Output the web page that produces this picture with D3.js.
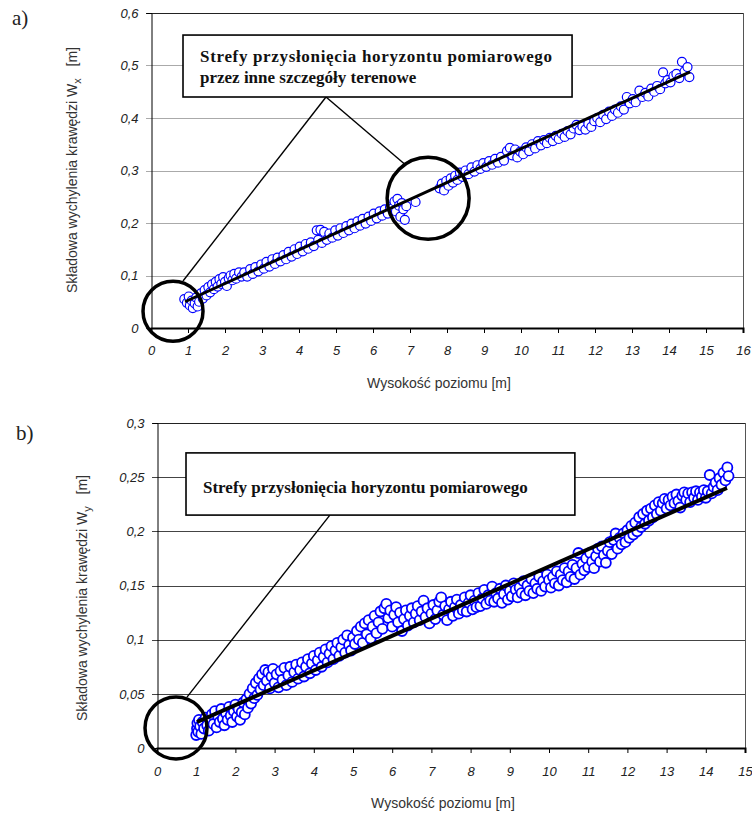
<!DOCTYPE html>
<html>
<head>
<meta charset="utf-8">
<script src="https://cdn.jsdelivr.net/npm/d3@7"></script>
<style>
  body { margin: 0; background: #fff; }
  svg { display: block; }
</style>
</head>
<body>
<div id="chart"></div>
<script>
// --- data ---
// a) component Wx [m] vs level height [m]
var wxPoints = [
  [0.90,.055],[0.97,.048],[1.02,.060],[1.05,.043],[1.10,.052],[1.13,.038],[1.18,.047],[1.22,.058],
  [1.26,.041],[1.30,.050],[1.35,.066],[1.40,.056],[1.45,.072],[1.50,.062],[1.55,.078],[1.60,.068],
  [1.65,.083],[1.70,.074],[1.75,.088],[1.80,.079],[1.85,.093],[1.90,.084],[1.95,.097],[2.00,.088],
  [2.05,.080],[2.10,.095],[2.15,.100],[2.20,.091],[2.25,.103],[2.30,.094],[2.38,.106],[2.45,.098],
  [2.52,.106],[2.60,.098],[2.68,.112],[2.75,.103],[2.82,.116],[2.90,.108],[2.98,.121],[3.05,.113],
  [3.12,.126],[3.20,.117],[3.28,.131],[3.35,.122],[3.42,.134],[3.50,.127],[3.58,.139],[3.65,.131],
  [3.72,.145],[3.80,.136],[3.88,.150],[3.95,.141],[4.02,.155],[4.10,.146],[4.18,.160],[4.25,.151],
  [4.32,.163],[4.40,.156],[4.48,.186],[4.52,.168],[4.58,.187],[4.62,.162],[4.68,.183],[4.75,.168],
  [4.82,.180],[4.90,.172],[4.98,.186],[5.05,.176],[5.12,.190],[5.20,.181],[5.28,.194],[5.35,.186],
  [5.42,.199],[5.50,.190],[5.58,.203],[5.65,.195],[5.72,.208],[5.80,.199],[5.88,.212],[5.95,.204],
  [6.02,.218],[6.10,.209],[6.18,.222],[6.25,.214],[6.32,.226],[6.40,.218],[6.46,.230],[6.52,.228],
  [6.58,.241],[6.62,.222],[6.66,.246],[6.70,.233],[6.74,.212],[6.78,.238],[6.82,.226],[6.86,.206],
  [6.90,.232],[7.15,.240],[7.80,.266],[7.86,.275],[7.92,.262],[7.98,.280],[8.04,.271],[8.10,.285],
  [8.16,.277],[8.22,.290],[8.28,.282],[8.35,.296],[8.42,.288],[8.50,.300],[8.58,.293],[8.66,.306],
  [8.74,.298],[8.82,.310],[8.90,.303],[8.98,.314],[9.06,.307],[9.14,.318],[9.22,.311],[9.30,.322],
  [9.38,.315],[9.46,.326],[9.54,.319],[9.62,.337],[9.70,.343],[9.76,.329],[9.84,.340],[9.90,.325],
  [9.98,.336],[10.06,.331],[10.14,.344],[10.22,.337],[10.30,.350],[10.38,.342],[10.46,.356],[10.54,.348],
  [10.62,.358],[10.70,.352],[10.78,.362],[10.86,.356],[10.94,.366],[11.02,.360],[11.10,.370],[11.18,.364],
  [11.26,.375],[11.34,.369],[11.42,.380],[11.50,.387],[11.58,.377],[11.66,.384],[11.74,.378],[11.82,.389],
  [11.90,.383],[11.98,.394],[12.06,.400],[12.14,.392],[12.22,.406],[12.30,.398],[12.38,.412],[12.46,.404],
  [12.54,.416],[12.62,.410],[12.70,.422],[12.78,.416],[12.86,.440],[12.94,.428],[13.02,.436],[13.10,.430],
  [13.20,.452],[13.28,.440],[13.36,.448],[13.44,.441],[13.52,.456],[13.60,.450],[13.68,.461],[13.76,.455],
  [13.84,.487],[13.90,.466],[13.96,.472],[14.04,.468],[14.12,.480],[14.20,.484],[14.28,.476],[14.35,.507],
  [14.42,.489],[14.50,.497],[14.55,.478]
];
var wxFit = [[0.92, 0.050], [14.57, 0.488]];

// b) component Wy [m] vs level height [m]
var wyPoints = [
  [1.00,.012],[1.02,.018],[1.03,.023],[1.05,.015],[1.07,.026],[1.10,.020],[1.13,.013],[1.16,.024],
  [1.20,.018],[1.24,.028],[1.28,.021],[1.32,.016],[1.36,.026],[1.40,.031],[1.44,.022],[1.48,.034],
  [1.52,.019],[1.56,.029],[1.60,.024],[1.64,.036],[1.68,.027],[1.72,.021],[1.76,.032],[1.80,.026],
  [1.84,.038],[1.88,.030],[1.92,.024],[1.96,.034],[2.00,.040],[2.04,.029],[2.08,.036],[2.12,.026],
  [2.16,.033],[2.20,.042],[2.24,.031],[2.28,.045],[2.32,.037],[2.36,.050],[2.40,.041],[2.44,.055],
  [2.48,.046],[2.52,.060],[2.56,.049],[2.60,.064],[2.64,.054],[2.68,.068],[2.72,.058],[2.76,.072],
  [2.80,.062],[2.84,.070],[2.88,.055],[2.92,.066],[2.96,.073],[3.00,.060],[3.05,.068],[3.10,.056],
  [3.15,.071],[3.20,.063],[3.25,.074],[3.30,.058],[3.35,.067],[3.40,.075],[3.45,.061],[3.50,.070],
  [3.55,.077],[3.60,.064],[3.65,.072],[3.70,.079],[3.75,.066],[3.80,.075],[3.85,.082],[3.90,.069],
  [3.95,.078],[4.00,.085],[4.05,.072],[4.10,.081],[4.15,.088],[4.20,.075],[4.25,.084],[4.30,.091],
  [4.35,.079],[4.40,.087],[4.45,.094],[4.50,.082],[4.55,.090],[4.60,.097],[4.65,.085],[4.70,.093],
  [4.75,.100],[4.80,.088],[4.85,.104],[4.90,.095],[4.95,.090],[5.00,.102],[5.05,.096],[5.10,.108],
  [5.15,.100],[5.20,.112],[5.25,.097],[5.30,.115],[5.35,.105],[5.40,.118],[5.45,.101],[5.50,.112],
  [5.55,.122],[5.60,.106],[5.65,.116],[5.70,.126],[5.75,.110],[5.80,.129],[5.85,.133],[5.90,.120],
  [5.95,.127],[6.00,.112],[6.05,.123],[6.10,.130],[6.15,.116],[6.20,.125],[6.25,.108],[6.30,.119],
  [6.35,.127],[6.40,.113],[6.45,.122],[6.50,.129],[6.55,.116],[6.60,.124],[6.65,.131],[6.70,.118],
  [6.75,.126],[6.80,.136],[6.85,.121],[6.90,.129],[6.95,.115],[7.00,.124],[7.05,.132],[7.10,.119],
  [7.15,.127],[7.20,.135],[7.25,.139],[7.30,.123],[7.35,.131],[7.40,.118],[7.45,.128],[7.50,.135],
  [7.55,.122],[7.60,.130],[7.65,.137],[7.70,.124],[7.75,.132],[7.80,.127],[7.85,.139],[7.90,.126],
  [7.95,.134],[8.00,.141],[8.05,.128],[8.10,.136],[8.15,.130],[8.20,.143],[8.25,.131],[8.30,.138],
  [8.35,.146],[8.40,.133],[8.45,.141],[8.50,.136],[8.55,.149],[8.60,.135],[8.65,.143],[8.70,.138],
  [8.75,.147],[8.80,.134],[8.85,.142],[8.90,.150],[8.95,.137],[9.00,.145],[9.05,.140],[9.10,.152],
  [9.15,.146],[9.20,.139],[9.25,.148],[9.30,.143],[9.35,.154],[9.40,.141],[9.45,.150],[9.50,.145],
  [9.55,.156],[9.60,.143],[9.65,.152],[9.70,.147],[9.75,.158],[9.80,.145],[9.85,.154],[9.90,.149],
  [9.95,.160],[10.00,.155],[10.05,.148],[10.10,.158],[10.15,.152],[10.20,.163],[10.25,.150],[10.30,.160],
  [10.35,.155],[10.40,.166],[10.45,.153],[10.50,.163],[10.55,.158],[10.60,.169],[10.65,.156],[10.70,.166],
  [10.75,.180],[10.80,.160],[10.85,.170],[10.90,.164],[10.95,.175],[11.00,.167],[11.05,.180],[11.10,.172],
  [11.15,.166],[11.20,.177],[11.25,.184],[11.30,.172],[11.35,.186],[11.40,.178],[11.45,.171],[11.50,.182],
  [11.55,.190],[11.60,.179],[11.65,.192],[11.70,.198],[11.75,.184],[11.80,.194],[11.85,.188],[11.90,.198],
  [11.95,.190],[12.00,.201],[12.05,.194],[12.10,.205],[12.15,.197],[12.20,.208],[12.25,.200],[12.30,.213],
  [12.35,.204],[12.40,.216],[12.45,.207],[12.50,.219],[12.55,.210],[12.60,.221],[12.65,.213],[12.70,.224],
  [12.75,.216],[12.80,.227],[12.85,.219],[12.90,.226],[12.95,.230],[13.00,.221],[13.05,.229],[13.10,.224],
  [13.15,.232],[13.20,.226],[13.25,.234],[13.30,.228],[13.35,.222],[13.40,.233],[13.45,.236],[13.50,.229],
  [13.55,.235],[13.60,.227],[13.65,.236],[13.70,.231],[13.75,.237],[13.80,.229],[13.85,.236],[13.90,.232],
  [13.95,.238],[14.00,.231],[14.05,.237],[14.10,.252],[14.15,.235],[14.20,.241],[14.25,.245],[14.30,.238],
  [14.35,.249],[14.40,.243],[14.45,.254],[14.50,.247],[14.55,.259],[14.58,.251]
];
var wyFit = [[1.02, 0.024], [14.54, 0.240]];

var wxTicksX = d3.range(0, 17, 1);
var wxTicksY = [0, 0.1, 0.2, 0.3, 0.4, 0.5, 0.6];
var wyTicksX = d3.range(0, 16, 1);
var wyTicksY = [0, 0.05, 0.1, 0.15, 0.2, 0.25, 0.3];

var xTitle = 'Wysokość poziomu [m]';
var yTitleBase = 'Składowa wychylenia krawędzi W';
var noteLine1 = 'Strefy przysłonięcia horyzontu pomiarowego';
var noteLine2 = 'przez inne szczegóły terenowe';

var width = 752, height = 814;
var svg = d3.select('#chart').append('svg')
  .attr('width', width)
  .attr('height', height);

var fmt = function(d) { return d === 0 ? '0' : String(d).replace('.', ','); };

function drawPanel(cfg) {
  var x = d3.scaleLinear().domain(cfg.xDomain).range([cfg.left, cfg.right]);
  var y = d3.scaleLinear().domain(cfg.yDomain).range([cfg.bottom, cfg.top]);
  var g = svg.append('g');

  // grid lines
  g.selectAll('.grid')
    .data(cfg.yTicks.filter(function(d) { return d > 0; }))
    .enter().append('line')
    .attr('x1', cfg.left - 5).attr('x2', cfg.right)
    .attr('y1', function(d) { return Math.round(y(d)) + 0.5; })
    .attr('y2', function(d) { return Math.round(y(d)) + 0.5; })
    .attr('stroke', function(d) { return d === cfg.yDomain[1] ? '#222' : cfg.gridColor; })
    .attr('stroke-width', 1);

  // right border
  g.append('line')
    .attr('x1', cfg.right + 0.5).attr('x2', cfg.right + 0.5)
    .attr('y1', cfg.top).attr('y2', cfg.bottom)
    .attr('stroke', '#555');

  // y axis
  var yAxis = g.append('g')
    .attr('transform', 'translate(' + (cfg.left + 0.5) + ',0)')
    .call(d3.axisLeft(y).tickValues(cfg.yTicks).tickFormat(fmt).tickSize(5).tickPadding(8));
  yAxis.select('.domain').attr('stroke', '#000');
  yAxis.selectAll('.tick line').remove();
  yAxis.selectAll('text')
    .attr('font-family', 'Liberation Sans, Arial, sans-serif')
    .attr('font-style', 'italic')
    .attr('font-size', 13)
    .attr('fill', '#222');

  // x axis
  var xAxis = g.append('g')
    .attr('transform', 'translate(0,' + cfg.bottom + ')')
    .call(d3.axisBottom(x).tickValues(cfg.xTicks).tickSize(5).tickPadding(cfg.xPad));
  xAxis.select('.domain').attr('stroke', '#000').attr('stroke-width', 2);
  xAxis.selectAll('.tick line').attr('stroke', '#000');
  xAxis.selectAll('text')
    .attr('font-family', 'Liberation Sans, Arial, sans-serif')
    .attr('font-style', 'italic')
    .attr('font-size', 13)
    .attr('fill', '#222');

  // titles
  svg.append('text')
    .attr('x', (cfg.left + cfg.right) / 2 - 8)
    .attr('y', cfg.xTitleY)
    .attr('text-anchor', 'middle')
    .attr('font-family', 'Liberation Sans, Arial, sans-serif')
    .attr('font-size', 14)
    .attr('fill', '#333')
    .text(xTitle);

  var yt = svg.append('text')
    .attr('transform', 'translate(' + cfg.yTitleX + ',' + cfg.yTitleY + ') rotate(-90)')
    .attr('text-anchor', 'middle')
    .attr('font-family', 'Liberation Sans, Arial, sans-serif')
    .attr('font-size', 14)
    .attr('fill', '#333');
  yt.append('tspan').text(yTitleBase);
  yt.append('tspan').attr('font-size', 11).attr('dy', 4).text(cfg.sub);
  yt.append('tspan').attr('dy', -4).attr('xml:space', 'preserve').text('   [m]');

  // panel label
  svg.append('text')
    .attr('x', cfg.tagX).attr('y', cfg.tagY)
    .attr('font-family', 'Liberation Serif, serif')
    .attr('font-size', 21)
    .attr('fill', '#222')
    .text(cfg.tag);

  // points
  g.selectAll('.pt')
    .data(cfg.points)
    .enter().append('circle')
    .attr('cx', function(d) { return x(d[0]); })
    .attr('cy', function(d) { return y(d[1]); })
    .attr('r', cfg.r)
    .attr('fill', '#fff')
    .attr('stroke', '#0000ff')
    .attr('stroke-width', cfg.ptStroke);

  // fitted line
  g.append('path')
    .datum(cfg.fit)
    .attr('d', d3.line().x(function(d) { return x(d[0]); }).y(function(d) { return y(d[1]); }))
    .attr('stroke', '#000')
    .attr('stroke-width', cfg.fitWidth)
    .attr('fill', 'none');

  // callout
  var n = cfg.note;
  var bx0 = x(n.box[0]), bx1 = x(n.box[1]), by0 = y(n.box[2]), by1 = y(n.box[3]);
  n.targets.forEach(function(t) {
    g.append('line')
      .attr('x1', x(n.apex)).attr('y1', by1)
      .attr('x2', x(t[0])).attr('y2', y(t[1]))
      .attr('stroke', '#000').attr('stroke-width', 1.4);
  });
  n.circles.forEach(function(c) {
    g.append('ellipse')
      .attr('cx', x(c[0])).attr('cy', y(c[1]))
      .attr('rx', c[2]).attr('ry', c[2])
      .attr('fill', 'none')
      .attr('stroke', '#000')
      .attr('stroke-width', 3.5);
  });
  g.append('rect')
    .attr('x', bx0).attr('y', by0)
    .attr('width', bx1 - bx0).attr('height', by1 - by0)
    .attr('fill', '#fff')
    .attr('stroke', '#000')
    .attr('stroke-width', 1.6);
  n.lines.forEach(function(line, i) {
    var t = g.append('text')
      .attr('x', bx0 + 17)
      .attr('y', by0 + n.firstBase + i * 21)
      .attr('font-family', 'Liberation Serif, Times New Roman, serif')
      .attr('font-weight', 'bold')
      .attr('font-size', 17)
      .attr('fill', '#111')
      .text(line);
    if (i === 0 && n.justify) t.attr('textLength', n.justify).attr('lengthAdjust', 'spacing');
  });
}

drawPanel({
  left: 151, right: 743, top: 13, bottom: 328,
  xDomain: [0, 16], yDomain: [0, 0.6],
  xTicks: wxTicksX, yTicks: wxTicksY, xPad: 13,
  gridColor: '#aaa',
  points: wxPoints, fit: wxFit, r: 4.5, ptStroke: 1.2, fitWidth: 3,
  xTitleY: 388, yTitleX: 77, yTitleY: 170, sub: 'x',
  tag: 'a)', tagX: 12, tagY: 25,
  note: {
    box: [0.865, 11.38, 0.558, 0.44], apex: 4.73,
    targets: [[0.865, 0.0895], [6.86, 0.312]],
    circles: [[0.595, 0.032, 30], [7.49, 0.247, 41]],
    lines: [noteLine1, noteLine2], firstBase: 27, justify: 352
  }
});

drawPanel({
  left: 157, right: 745, top: 423, bottom: 748,
  xDomain: [0, 15], yDomain: [0, 0.3],
  xTicks: wyTicksX, yTicks: wyTicksY, xPad: 14,
  gridColor: '#444',
  points: wyPoints, fit: wyFit, r: 5, ptStroke: 1.8, fitWidth: 4,
  xTitleY: 808, yTitleX: 87, yTitleY: 598, sub: 'y',
  tag: 'b)', tagX: 16, tagY: 440,
  note: {
    box: [0.74, 10.66, 0.2724, 0.215], apex: 4.41,
    targets: [[0.765, 0.047]],
    circles: [[0.485, 0.0185, 31]],
    lines: [noteLine1], firstBase: 40, justify: 0
  }
});
</script>
</body>
</html>
